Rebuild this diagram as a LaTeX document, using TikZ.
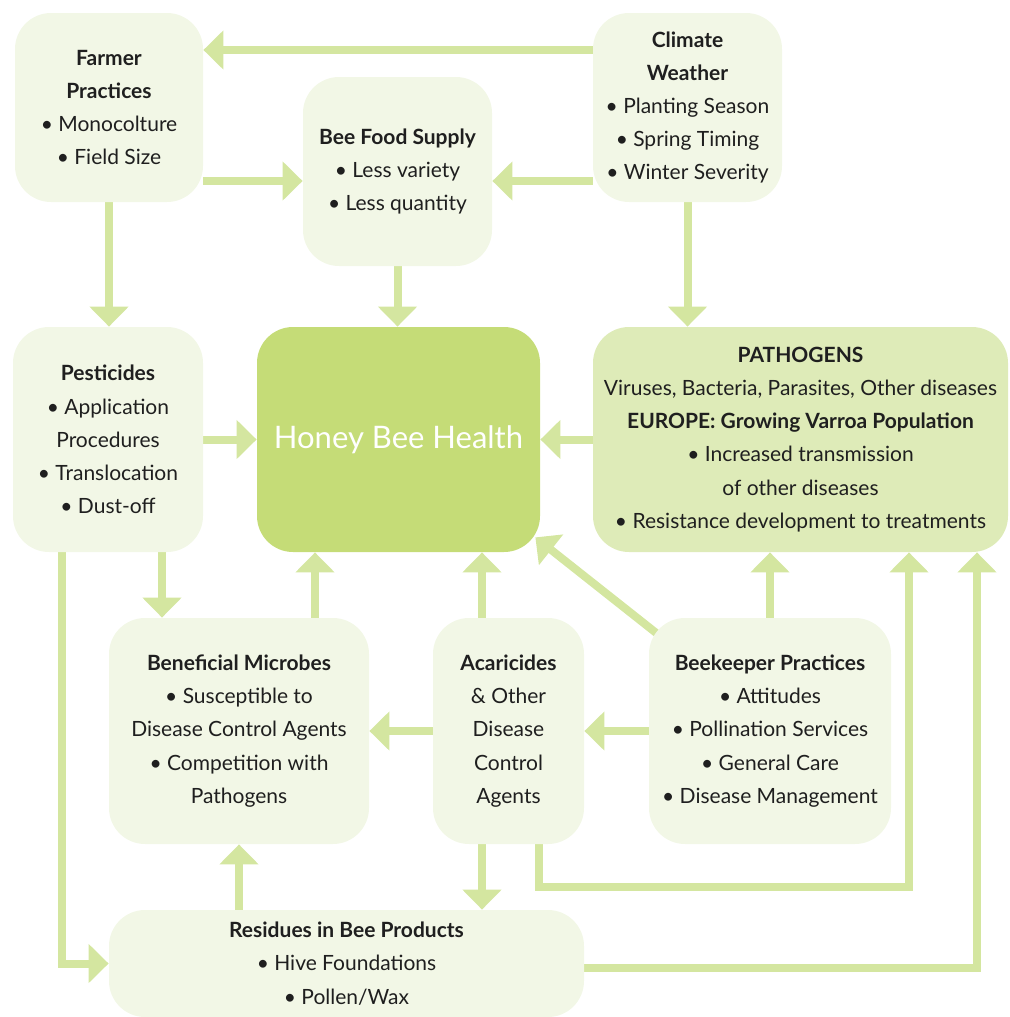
\documentclass[tikz,border=0pt]{standalone}
\usepackage{fontspec}
\setmainfont{Lato}
\usetikzlibrary{arrows.meta,backgrounds}
\definecolor{vertfleche}{HTML}{D4E6A0}
\definecolor{vertpale}{HTML}{F2F7E6}
\definecolor{vertmoyen}{HTML}{DEEBB8}
\definecolor{vertfonce}{HTML}{C5DC77}

\begin{document}
\begin{tikzpicture}[x=0.5pt,y=-0.5pt]
\tikzset{boite/.style={fill=vertpale, rounded corners=18pt, align=center, inner sep=0pt, text=black!88, font=\fontsize{10.5}{16.6}\selectfont}}
\tikzset{fleche/.style={draw=vertfleche, line width=4pt, -{Triangle[length=10pt,width=19pt]}}}
\useasboundingbox (0,0) rectangle (1010,1017);
\node[boite, minimum width=94pt, minimum height=94.5pt] (FP) at (109,107.5) {\textbf{Farmer}\\\textbf{Practices}\\• Monocolture\\• Field Size};
\node[boite, minimum width=94.5pt, minimum height=94.5pt] (BF) at (397.5,171.5) {\textbf{Bee Food Supply}\\• Less variety\\• Less quantity};
\node[boite, minimum width=94.5pt, minimum height=94.5pt] (CW) at (687.5,107.5) {\textbf{Climate}\\\textbf{Weather}\\• Planting Season\\• Spring Timing\\• Winter Severity};
\node[boite, minimum width=95pt, minimum height=112.5pt] (PE) at (108,439.5) {\textbf{Pesticides}\\• Application\\Procedures\\• Translocation\\• Dust-off};
\node[boite, fill=vertfonce, text=white, font=\fontsize{15.5}{20}\selectfont, minimum width=141.5pt, minimum height=112.5pt] (HB) at (398.5,439.5) {Honey Bee Health};
\node[boite, fill=vertmoyen, minimum width=207.5pt, minimum height=112.5pt] (PA) at (800.5,439.5) {\textbf{PATHOGENS}\\Viruses, Bacteria, Parasites, Other diseases\\\textbf{EUROPE: Growing Varroa Population}\\• Increased transmission\\of other diseases\\• Resistance development to treatments};
\node[boite, minimum width=130pt, minimum height=113pt] (BM) at (239,731) {\textbf{Beneficial Microbes}\\• Susceptible to\\Disease Control Agents\\• Competition with\\Pathogens};
\node[boite, minimum width=75.5pt, minimum height=113pt] (AC) at (508.5,731) {\textbf{Acaricides}\\\& Other\\Disease\\Control\\Agents};
\node[boite, minimum width=121pt, minimum height=113pt] (BK) at (770,731) {\textbf{Beekeeper Practices}\\• Attitudes\\• Pollination Services\\• General Care\\• Disease Management};
\node[boite, minimum width=237.5pt, minimum height=53.5pt] (RB) at (346.5,963.5) {\textbf{Residues in Bee Products}\\• Hive Foundations\\• Pollen/Wax};
\begin{scope}[on background layer]
\draw[fleche] ([yshift=28.75pt]CW.west) -- ([yshift=28.75pt]FP.east);
\draw[fleche] ([yshift=-4.75pt]FP.east |- BF.west) -- ([yshift=-4.75pt]BF.west);
\draw[fleche] ([yshift=-4.75pt]CW.west |- BF.east) -- ([yshift=-4.75pt]BF.east);
\draw[fleche] (FP.south) -- (FP.south |- PE.north);
\draw[fleche] (BF.south) -- (BF.south |- HB.north);
\draw[fleche] (CW.south) -- (CW.south |- PA.north);
\draw[fleche] (PE.east) -- (HB.west);
\draw[fleche] (PA.west) -- (HB.east);
\draw[fleche] ([xshift=27pt]PE.south) -- ([xshift=27pt]PE.south |- BM.north);
\draw[fleche] ([xshift=-23pt]PE.south) |- (RB.west);
\draw[fleche] ([xshift=38pt]BM.north) -- ([xshift=38pt]BM.north |- HB.south);
\draw[fleche] ([xshift=-13.25pt]AC.north) -- ([xshift=-13.25pt]AC.north |- HB.south);
\draw[fleche] ([shift={(8pt,-11pt)}]BK.north west) -- ([shift={(-2.5pt,7.5pt)}]HB.south east);
\draw[fleche] (BK.north) -- (BK.north |- PA.south);
\draw[fleche] (BK.west) -- (AC.east);
\draw[fleche] (AC.west) -- (BM.east);
\draw[fleche] ([xshift=-13.25pt]AC.south) -- ([xshift=-13.25pt]AC.south |- RB.north);
\draw[fleche] ([xshift=15.25pt]AC.south) -- ++(0,43) -| ([xshift=54.25pt]PA.south);
\draw[fleche] (BM.south |- RB.north) -- (BM.south);
\draw[fleche] ([yshift=-2.25pt]RB.east) -| ([xshift=88.25pt]PA.south);
\end{scope}
\end{tikzpicture}
\end{document}
